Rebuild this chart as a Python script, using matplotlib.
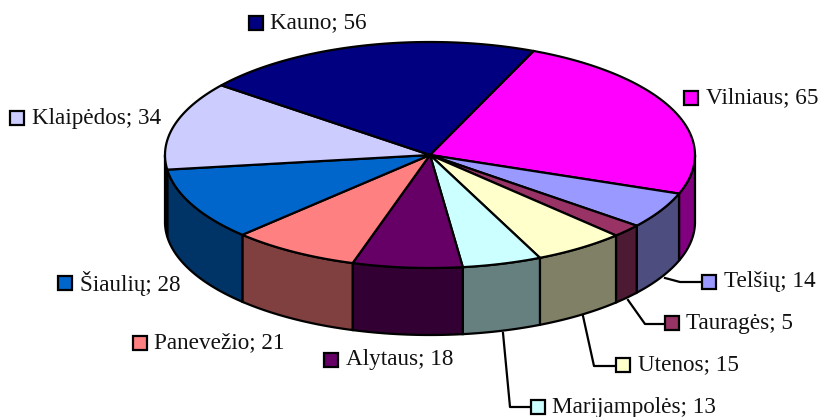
import numpy as np
import matplotlib
matplotlib.use("Agg")
import matplotlib.pyplot as plt
from matplotlib.patches import Polygon, Rectangle

plt.rcParams["font.family"] = ["Liberation Serif"]

# clockwise from the top
names = ["Vilniaus", "Telšių", "Tauragės", "Utenos", "Marijampolės",
         "Alytaus", "Panevežio", "Šiaulių", "Klaipėdos", "Kauno"]
values = [65, 14, 5, 15, 13, 18, 21, 28, 34, 56]
top_colors = ["#FF00FF", "#9999FF", "#993366", "#FFFFCC", "#CCFFFF",
              "#660066", "#FF8080", "#0066CC", "#CCCCFF", "#000080"]
side_colors = ["#800080", "#4D4D80", "#4D1A33", "#808066", "#668080",
               "#330033", "#804040", "#003366", "#666680", "#000040"]

# pixel layout of the pie and the labels
cx, cy, rx, ry, depth = 430, 155, 265, 113, 67
start = 67
label_pos = [(691, 98), (709, 282), (672, 323), (623, 365), (538, 407),
             (331, 360), (140, 343), (65, 283), (17, 118), (256, 23)]
leaders = [[(665, 278), (680, 282), (702, 282)],
           [(628, 300), (645, 324), (665, 324)],
           [(583, 316), (594, 366), (616, 366)],
           [(503, 333), (510, 407), (531, 407)]]
line_w = 1.6


def ellipse_pts(a0, a1, z=0):
    t = np.radians(np.linspace(a0, a1, 80))
    return np.column_stack([cx + rx * np.cos(t), cy - ry * np.sin(t) + z])


fig = plt.figure(figsize=(8.21, 4.17), dpi=100)
ax = fig.add_axes([0, 0, 1, 1])
ax.set_xlim(0, 821)
ax.set_ylim(417, 0)
ax.axis("off")

fracs = np.array(values) / sum(values) * 360
edges = start - np.concatenate([[0], np.cumsum(fracs)])

# side walls, only the front half shows
for i in range(len(values)):
    lo, hi = max(edges[i + 1], -180), min(edges[i], 0)
    if lo < hi:
        wall = np.vstack([ellipse_pts(lo, hi), ellipse_pts(hi, lo, depth)])
        ax.add_patch(Polygon(wall, closed=True, fc=side_colors[i], ec="black",
                             lw=line_w, zorder=2))

# top slices
for i in range(len(values)):
    pts = ellipse_pts(edges[i], edges[i + 1])
    ax.add_patch(Polygon(np.vstack([[cx, cy], pts]), closed=True, fc=top_colors[i],
                         ec="black", lw=line_w, zorder=3))

for pts in leaders:
    xs, ys = zip(*pts)
    ax.plot(xs, ys, color="black", lw=line_w, zorder=4)

for i, name in enumerate(names):
    x, y = label_pos[i]
    ax.add_patch(Rectangle((x - 7, y - 7), 14, 14, fc=top_colors[i], ec="black",
                           lw=line_w, zorder=5))
    ax.text(x + 14.5, y, f"{name}; {values[i]}", fontsize=16.7, ha="left", va="center",
            color="#111111", zorder=5)

fig.savefig("out.png", dpi=100)
